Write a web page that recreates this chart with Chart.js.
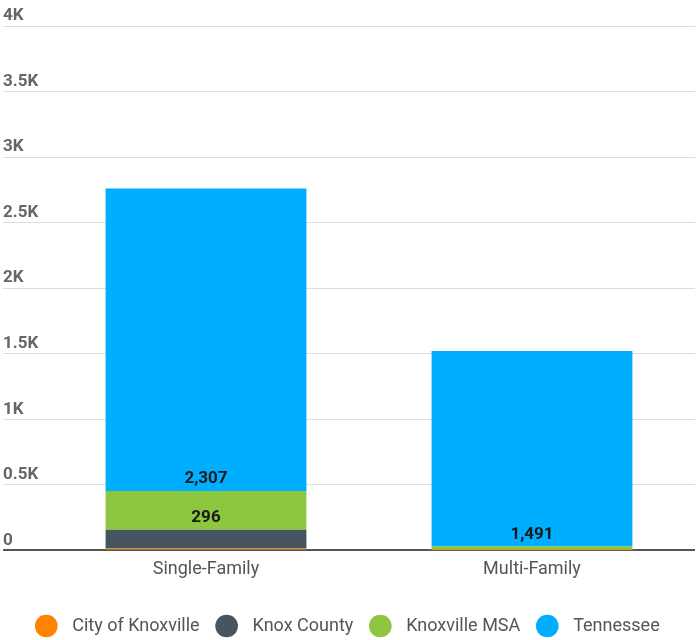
<!DOCTYPE html>
<html>
<head>
<meta charset="utf-8">
<title>Building Permits</title>
<script src="https://cdn.jsdelivr.net/npm/chart.js@4/dist/chart.umd.min.js"></script>
<style>
  body { margin: 0; background: #fff; }
  #wrap { width: 698px; height: 640px; }
</style>
</head>
<body>
<div id="wrap"><canvas id="permits"></canvas></div>
<script>
// permit counts by housing type
const categories = ['Single-Family', 'Multi-Family'];
const cityOfKnoxville = [14, 1];
const knoxCounty = [143, 2];
const knoxvilleMsa = [296, 27];
const tennessee = [2307, 1491];
const yTicks = [0, 500, 1000, 1500, 2000, 2500, 3000, 3500, 4000];

const seriesNames = ['City of Knoxville', 'Knox County', 'Knoxville MSA', 'Tennessee'];
const seriesColors = ['#ff8200', '#46555f', '#8dc63f', '#00aeff'];
const seriesValues = [cityOfKnoxville, knoxCounty, knoxvilleMsa, tennessee];

// value labels sit just above the bottom of segments tall enough to hold them
const segmentLabels = {
  id: 'segmentLabels',
  afterDatasetsDraw(chart) {
    const ctx = chart.ctx;
    ctx.save();
    ctx.font = 'bold 17px Roboto';
    ctx.fillStyle = '#1a1a1a';
    ctx.textAlign = 'center';
    ctx.textBaseline = 'middle';
    chart.data.datasets.forEach((ds, i) => {
      const meta = chart.getDatasetMeta(i);
      meta.data.forEach((bar, j) => {
        if (Math.abs(bar.base - bar.y) < 30) return;
        ctx.fillText(ds.data[j].toLocaleString('en-US'), bar.x, bar.base - 12);
      });
    });
    ctx.restore();
  }
};

new Chart(document.getElementById('permits'), {
  type: 'bar',
  data: {
    labels: categories,
    datasets: seriesNames.map((name, i) => ({
      label: name,
      data: seriesValues[i],
      backgroundColor: seriesColors[i],
      borderWidth: 0,
      categoryPercentage: 1,
      barPercentage: 0.616
    }))
  },
  options: {
    responsive: true,
    maintainAspectRatio: false,
    animation: false,
    layout: { padding: { left: 3, right: 3, top: 26, bottom: -5 } },
    scales: {
      x: {
        stacked: true,
        afterFit: scale => { scale.height += 18; },
        grid: { display: false },
        border: { display: false },
        ticks: { color: '#555', font: { family: 'Roboto', size: 18 }, padding: 0 }
      },
      y: {
        stacked: true,
        min: 0,
        max: 4000,
        afterBuildTicks: scale => { scale.ticks = yTicks.map(v => ({ value: v })); },
        afterFit: scale => { scale.width = 40; },
        border: { display: false },
        grid: {
          tickLength: 40,
          color: c => c.tick && c.tick.value === 0 ? '#555' : '#dedede',
          lineWidth: c => c.tick && c.tick.value === 0 ? 2 : 1
        },
        ticks: {
          crossAlign: 'far',
          padding: 0,
          labelOffset: -10,
          color: '#666',
          font: { family: 'Roboto', size: 17, weight: 'bold' },
          callback: v => v === 0 ? '0' : (v / 1000) + 'K'
        }
      }
    },
    plugins: {
      tooltip: { enabled: false },
      legend: {
        position: 'bottom',
        labels: {
          usePointStyle: true,
          pointStyle: 'circle',
          boxWidth: 16,
          boxHeight: 16,
          padding: 19,
          color: '#555',
          font: { family: 'Roboto', size: 18 },
          generateLabels: chart => Chart.defaults.plugins.legend.labels.generateLabels(chart)
            .map(item => ({ ...item, text: '  ' + item.text }))
        }
      }
    }
  },
  plugins: [segmentLabels]
});
</script>
</body>
</html>
